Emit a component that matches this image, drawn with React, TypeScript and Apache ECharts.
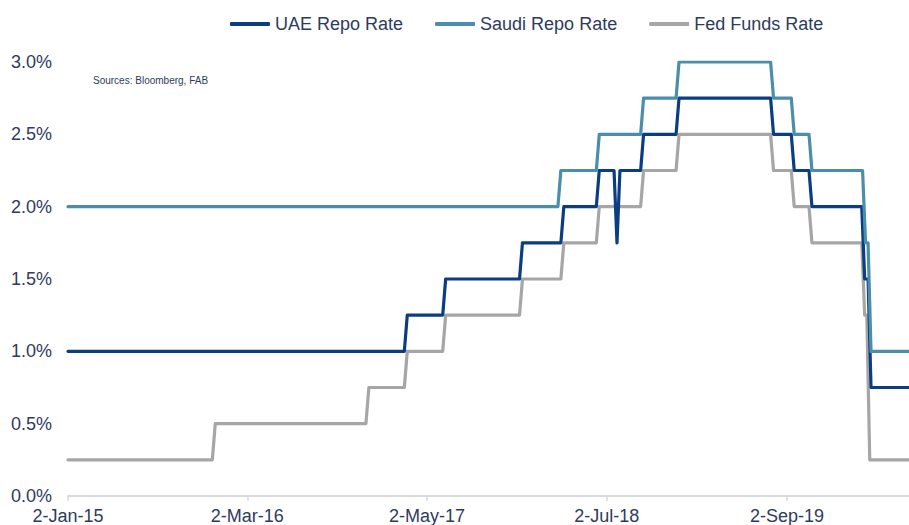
import React, { useEffect, useRef } from "react";
import * as echarts from "echarts";

// ---- Data (policy rate change dates and levels, %) ----
const uaeDates = [
  "2015-01-02", "2017-03-16", "2017-06-15", "2017-12-14", "2018-03-22",
  "2018-06-14", "2018-07-26", "2018-08-02", "2018-09-27", "2018-12-20",
  "2019-08-01", "2019-09-19", "2019-10-31", "2020-03-04", "2020-03-19",
];
const uaeRates = [1.0, 1.25, 1.5, 1.75, 2.0, 2.25, 1.75, 2.25, 2.5, 2.75, 2.5, 2.25, 2.0, 1.5, 0.75];

const saudiDates = [
  "2015-01-02", "2018-03-15", "2018-06-14", "2018-09-27", "2018-12-20",
  "2019-08-01", "2019-09-19", "2019-10-31", "2020-03-06", "2020-03-19",
];
const saudiRates = [2.0, 2.25, 2.5, 2.75, 3.0, 2.75, 2.5, 2.25, 1.75, 1.0];

const fedDates = [
  "2015-01-02", "2015-12-17", "2016-12-15", "2017-03-16", "2017-06-15",
  "2017-12-14", "2018-03-22", "2018-06-14", "2018-09-27", "2018-12-20",
  "2019-08-01", "2019-09-19", "2019-10-31", "2020-03-04", "2020-03-16",
];
const fedRates = [0.25, 0.5, 0.75, 1.0, 1.25, 1.5, 1.75, 2.0, 2.25, 2.5, 2.25, 2.0, 1.75, 1.25, 0.25];

const startDate = "2015-01-02";
const endDate = "2020-06-17";
const xTickDates = ["2015-01-02", "2016-03-02", "2017-05-02", "2018-07-02", "2019-09-02"];
const yTicks = [0, 0.5, 1.0, 1.5, 2.0, 2.5, 3.0];

const seriesNames = ["UAE Repo Rate", "Saudi Repo Rate", "Fed Funds Rate"];
const sourceNote = "Sources: Bloomberg, FAB";

const MONTHS = ["Jan", "Feb", "Mar", "Apr", "May", "Jun", "Jul", "Aug", "Sep", "Oct", "Nov", "Dec"];
const DAY = 86400000;
const ts = (s: string) => {
  const [y, m, d] = s.split("-").map(Number);
  return Date.UTC(y, m - 1, d);
};
const fmtDate = (v: number) => {
  const d = new Date(v);
  return `${d.getUTCDate()}-${MONTHS[d.getUTCMonth()]}-${String(d.getUTCFullYear()).slice(2)}`;
};

// weekly observations: the week before a change still carries the old level
const buildSteps = (dates: string[], rates: number[]) => {
  const pts: [number, number][] = [[ts(dates[0]), rates[0]]];
  for (let i = 1; i < dates.length; i++) {
    const t = ts(dates[i]);
    pts.push([t - 7 * DAY, rates[i - 1]]);
    pts.push([t, rates[i]]);
  }
  pts.push([ts(endDate), rates[rates.length - 1]]);
  return pts;
};

const TEXT = "#2E3B5E";
const COLORS = ["#0B3D82", "#4A8EAB", "#A6A6A6"];

export default function App() {
  const ref = useRef<HTMLDivElement>(null);
  useEffect(() => {
    if (!ref.current) return;
    const chart = echarts.init(ref.current, null, { renderer: "svg" });
    const font = "Liberation Sans, Arial, sans-serif";
    const mk = (name: string, data: [number, number][], color: string, z: number) => ({
      name,
      type: "line",
      data,
      z,
      showSymbol: false,
      symbol: "none",
      color,
      lineStyle: { color, width: 3.2, cap: "round", join: "round" },
    });
    chart.setOption({
      animation: false,
      textStyle: { fontFamily: font },
      legend: {
        data: seriesNames,
        left: 230,
        top: 15,
        padding: 0,
        itemGap: 32,
        itemWidth: 40,
        itemHeight: 4,
        icon: "roundRect",
        textStyle: { fontSize: 18, color: TEXT, fontFamily: font },
      },
      grid: { left: 68, right: 0, top: 62, bottom: 27, containLabel: false },
      xAxis: {
        type: "value",
        min: ts(startDate),
        max: ts(endDate),
        splitLine: { show: false },
        axisLine: { show: true, lineStyle: { color: "#D9D9D9", width: 2 } },
        axisTick: {
          show: true,
          length: 5,
          lineStyle: { color: "#D9D9D9", width: 1.5 },
          customValues: xTickDates.map(ts),
        },
        axisLabel: {
          customValues: xTickDates.map(ts),
          formatter: (v: number) => fmtDate(v),
          fontSize: 18,
          color: TEXT,
          margin: 11,
          fontFamily: font,
        },
      },
      yAxis: {
        type: "value",
        min: 0,
        max: 3,
        interval: 0.5,
        splitLine: { show: false },
        axisLine: { show: false },
        axisTick: { show: false },
        axisLabel: {
          customValues: yTicks,
          formatter: (v: number) => v.toFixed(1) + "%",
          fontSize: 18,
          color: TEXT,
          margin: 16,
          fontFamily: font,
        },
      },
      graphic: [
        {
          type: "text",
          left: 93,
          top: 75,
          style: { text: sourceNote, fontSize: 10, fill: TEXT, fontFamily: font },
        },
      ],
      series: [
        mk(seriesNames[0], buildSteps(uaeDates, uaeRates), COLORS[0], 3),
        mk(seriesNames[1], buildSteps(saudiDates, saudiRates), COLORS[1], 4),
        mk(seriesNames[2], buildSteps(fedDates, fedRates), COLORS[2], 2),
      ],
    });
    return () => chart.dispose();
  }, []);
  return (
    <div
      ref={ref}
      style={{ position: "fixed", left: 0, top: 0, width: 909, height: 525, background: "#fff" }}
    />
  );
}
